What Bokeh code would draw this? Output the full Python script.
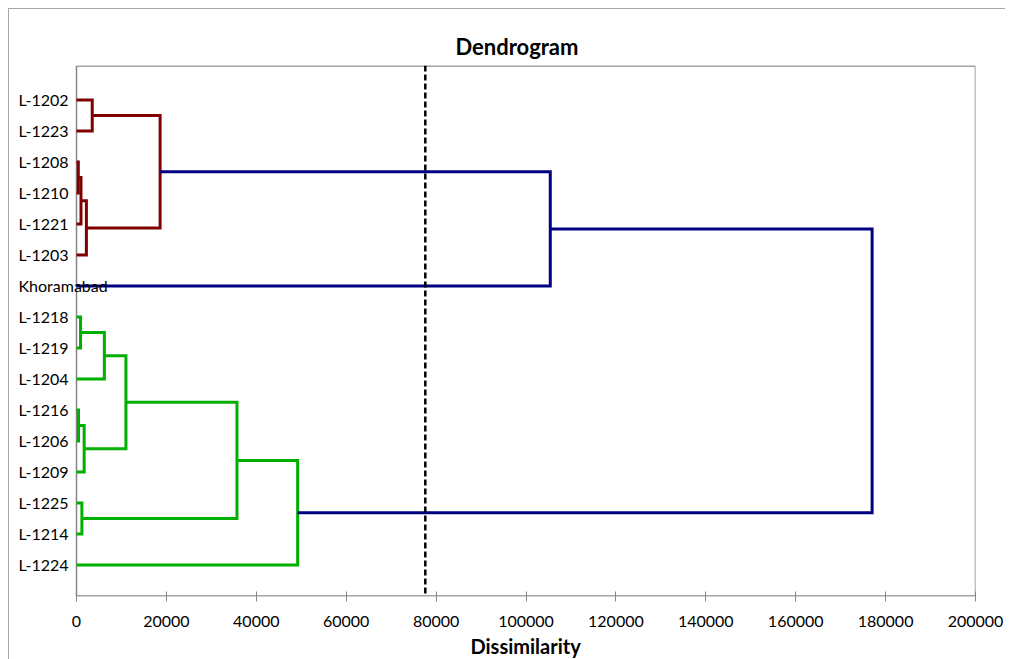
from bokeh.plotting import figure
from bokeh.models import (Range1d, FixedTicker, NumeralTickFormatter, Span, Title,
                          ColumnDataSource)
from bokeh.core.properties import value
from bokeh.embed import file_html
from bokeh.resources import INLINE

# ---- data ----
leaves = ["L-1202", "L-1223", "L-1208", "L-1210", "L-1221", "L-1203", "Khoramabad",
          "L-1218", "L-1219", "L-1204", "L-1216", "L-1206", "L-1209", "L-1225",
          "L-1214", "L-1224"]
# merges in order; node ids: leaves 0..15, merge k -> node 16+k
merge_a = [2, 10, 7, 16, 13, 17, 19, 0, 18, 24, 23, 25, 27, 26, 28]
merge_b = [3, 11, 8, 4, 14, 12, 5, 1, 9, 21, 22, 20, 15, 6, 29]
merge_h = [400, 450, 900, 1000, 1200, 1700, 2200, 3500, 6200, 11000, 18600,
           35700, 49200, 105400, 177000]
merge_group = ["red", "green", "green", "red", "green", "green", "red", "red",
               "green", "green", "red", "green", "green", "root", "root"]
cut_level = 77600
x_ticks = [0, 20000, 40000, 60000, 80000, 100000, 120000, 140000, 160000, 180000, 200000]
x_min, x_max = 0, 200000
y_min, y_max = 0, 17.1

colors = {"red": "#800000", "green": "#00B000", "root": "#000080"}

n = len(leaves)
ypos = {i: float(n - i) for i in range(n)}
xpos = {i: 0.0 for i in range(n)}
xs, ys, cs = [], [], []
for k, (a, b, h) in enumerate(zip(merge_a, merge_b, merge_h)):
    node = n + k
    xs.append([xpos[a], h, h, xpos[b]])
    ys.append([ypos[a], ypos[a], ypos[b], ypos[b]])
    cs.append(colors[merge_group[k]])
    ypos[node] = (ypos[a] + ypos[b]) / 2
    xpos[node] = h

# pixel geometry of the plot area
px_per_x = 899 / (x_max - x_min)
px_per_y = 31.0
left_pad_px = 62          # frame extends left of the plot area to hold the labels
label_px = 58             # labels start this far left of the plot area
y_pad = 0.5 / px_per_y

p = figure(width=996, height=650, output_backend="svg", toolbar_location=None,
           x_range=Range1d(x_min - left_pad_px / px_per_x, x_max),
           y_range=Range1d(y_min - y_pad, y_max + y_pad),
           frame_width=899 + left_pad_px, frame_height=531,
           min_border_left=5, min_border_right=30, min_border_top=56,
           min_border_bottom=20, title=None)
p.styles = {"margin-left": "8px", "margin-top": "8px",
            "border-left": "1px solid #a6a6a6", "border-top": "1px solid #a6a6a6"}
p.background_fill_color = "white"
p.border_fill_color = "white"
p.outline_line_color = None
p.xgrid.visible = False
p.ygrid.visible = False
p.yaxis.visible = False

# plot area box
p.quad(left=[x_min], right=[x_max], bottom=[y_min], top=[y_max],
       fill_color=None, line_color="#868686", line_width=1.5)

t = Title(text="Dendrogram", align="left", offset=441, text_font="Lato",
          text_font_style="bold", text_font_size="22px", text_color="black",
          standoff=12)
p.add_layout(t, "above")

ax = p.xaxis[0]
ax.ticker = FixedTicker(ticks=x_ticks)
ax.formatter = NumeralTickFormatter(format="0")
ax.axis_line_color = None
ax.major_tick_line_color = "#868686"
ax.major_tick_line_width = 1
ax.major_tick_in = 5
ax.major_tick_out = 5
ax.minor_tick_line_color = None
ax.major_label_text_font = "Lato"
ax.major_label_text_font_size = "16px"
ax.major_label_text_color = "black"
ax.major_label_standoff = 14

xt = Title(text="Dissimilarity", align="left", offset=456, text_font="Lato",
           text_font_style="bold", text_font_size="20px", text_color="black",
           standoff=4)
p.add_layout(xt, "below")

p.multi_line(xs=xs, ys=ys, line_color=cs, line_width=3, line_join="miter")

p.add_layout(Span(location=cut_level, dimension="height", line_color="black",
                  line_dash="6 3", line_width=2.5))

src = ColumnDataSource(dict(x=[x_min - label_px / px_per_x] * n,
                            y=[ypos[i] for i in range(n)], t=leaves))
p.text(x="x", y="y", text="t", source=src, text_align="left", text_baseline="middle",
       text_font=value("Lato"), text_font_size=value("16px"), text_color="black",
       y_offset=-1)

open("out.html", "w").write(file_html(p, INLINE))
